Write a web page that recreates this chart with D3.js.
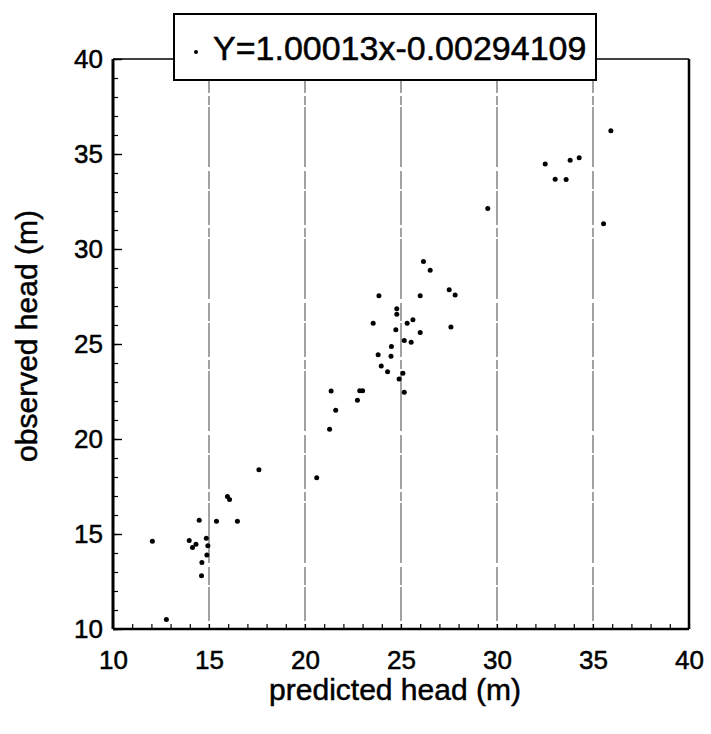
<!DOCTYPE html>
<html>
<head>
<meta charset="UTF-8">
<script src="https://d3js.org/d3.v7.min.js"></script>
<style>
body { margin: 0; background: #fff; }
svg text { font-family: "Liberation Sans", Arial, sans-serif; fill: #000; stroke: #000; stroke-width: 0.5px; }
.axis .domain { display: none; }
</style>
</head>
<body>
<svg width="711" height="734"></svg>
<script>

// predicted head (m) / observed head (m)
var predicted = [12.05, 12.78, 14.49, 13.97, 14.14, 14.32, 14.86, 14.94, 14.89, 14.63,
                 14.61, 15.39, 16.48, 15.96, 16.07, 17.6, 20.61, 21.28, 26.17, 26.52,
                 23.85, 26.0, 27.51, 27.82, 24.78, 24.78, 23.55, 25.32, 25.62, 27.6,
                 24.73, 26.0, 25.17, 25.53, 24.5, 23.81, 24.48, 23.97, 24.3, 25.1,
                 24.9, 21.36, 22.85, 23.0, 25.17, 22.73, 21.6, 35.93, 32.51, 33.81,
                 34.28, 33.03, 33.6, 35.55, 29.52];
var observed  = [14.62, 10.5, 15.73, 14.66, 14.29, 14.46, 14.78, 14.38, 13.9, 13.5,
                 12.8, 15.67, 15.67, 16.97, 16.82, 18.38, 17.96, 20.51, 29.34, 28.88,
                 27.54, 27.54, 27.86, 27.58, 26.86, 26.57, 26.09, 26.09, 26.28, 25.9,
                 25.75, 25.6, 25.18, 25.09, 24.87, 24.43, 24.35, 23.84, 23.54, 23.46,
                 23.16, 22.53, 22.54, 22.54, 22.46, 22.04, 21.51, 36.22, 34.48, 34.67,
                 34.8, 33.67, 33.66, 31.33, 32.13];

var majorTicks = [10, 15, 20, 25, 30, 35, 40];
var gridTicks = [15, 20, 25, 30, 35];
var minorTicks = d3.range(10, 41, 1);
var legendLabel = "Y=1.00013x-0.00294109";

var svg = d3.select("svg");
var margin = {top: 59, right: 22, bottom: 105, left: 113};
var width = 711 - margin.left - margin.right,
    height = 734 - margin.top - margin.bottom;

var x = d3.scaleLinear().domain([10, 40]).range([0, width]);
var y = d3.scaleLinear().domain([10, 40]).range([height, 0]);

var g = svg.append("g").attr("transform", "translate(" + margin.left + "," + margin.top + ")");

// vertical grid lines (scanned, broken look)
g.append("g")
  .selectAll("line")
  .data(gridTicks)
  .enter().append("line")
    .attr("x1", function(d) { return x(d); })
    .attr("x2", function(d) { return x(d); })
    .attr("y1", 0)
    .attr("y2", height)
    .attr("stroke", "#444")
    .attr("stroke-width", 1)
    .attr("stroke-dasharray", "34,3,9,2,60,4,18,2");

// minor ticks, pointing inward
g.append("g")
    .attr("class", "axis")
    .attr("transform", "translate(0," + height + ")")
    .call(d3.axisBottom(x).tickValues(minorTicks).tickSize(-5).tickFormat(""))
    .selectAll("line").attr("stroke-width", 1.2);

g.append("g")
    .attr("class", "axis")
    .call(d3.axisLeft(y).tickValues(minorTicks).tickSize(-5).tickFormat(""))
    .selectAll("line").attr("stroke-width", 1.2);

g.append("g")
    .attr("class", "axis")
    .call(d3.axisLeft(y).tickValues(majorTicks).tickSize(-9).tickFormat(""))
    .selectAll("line").attr("stroke-width", 1.4);

// tick labels
g.append("g")
    .attr("class", "axis")
    .attr("transform", "translate(0," + height + ")")
    .call(d3.axisBottom(x).tickValues(majorTicks).tickSize(0).tickPadding(22).tickFormat(d3.format("d")))
    .selectAll("text").attr("font-size", 26).style("font-family", "Liberation Sans, Arial, sans-serif");

g.append("g")
    .attr("class", "axis")
    .call(d3.axisLeft(y).tickValues(majorTicks).tickSize(0).tickPadding(10).tickFormat(d3.format("d")))
    .selectAll("text").attr("font-size", 26).style("font-family", "Liberation Sans, Arial, sans-serif");

// frame
g.append("line").attr("x1", 0).attr("x2", width).attr("y1", 0).attr("y2", 0)
    .attr("stroke", "#000").attr("stroke-width", 1.5);
g.append("line").attr("x1", width).attr("x2", width).attr("y1", 0).attr("y2", height)
    .attr("stroke", "#000").attr("stroke-width", 2.5);
g.append("line").attr("x1", 0).attr("x2", width).attr("y1", height).attr("y2", height)
    .attr("stroke", "#000").attr("stroke-width", 2.5);
g.append("line").attr("x1", 0).attr("x2", 0).attr("y1", 0).attr("y2", height)
    .attr("stroke", "#000").attr("stroke-width", 3);

// points
g.append("g")
  .selectAll("circle")
  .data(predicted)
  .enter().append("circle")
    .attr("cx", function(d) { return x(d); })
    .attr("cy", function(d, i) { return y(observed[i]); })
    .attr("r", 2.5)
    .attr("fill", "#000");

// axis titles
svg.append("text")
    .attr("x", margin.left + width / 2 - 6)
    .attr("y", 700)
    .attr("text-anchor", "middle")
    .attr("font-size", 30)
    .text("predicted head (m)");

svg.append("text")
    .attr("transform", "translate(37," + (margin.top + height / 2 - 8) + ") rotate(-90)")
    .attr("text-anchor", "middle")
    .attr("font-size", 30)
    .text("observed head (m)");

// legend
var legend = svg.append("g").attr("transform", "translate(174,14)");
legend.append("rect")
    .attr("width", 422)
    .attr("height", 66)
    .attr("fill", "#fff")
    .attr("stroke", "#000")
    .attr("stroke-width", 2);
legend.append("circle")
    .attr("cx", 22)
    .attr("cy", 38)
    .attr("r", 2)
    .attr("fill", "#000");
legend.append("text")
    .attr("x", 39)
    .attr("y", 46)
    .attr("font-size", 34)
    .text(legendLabel);

</script>
</body>
</html>
